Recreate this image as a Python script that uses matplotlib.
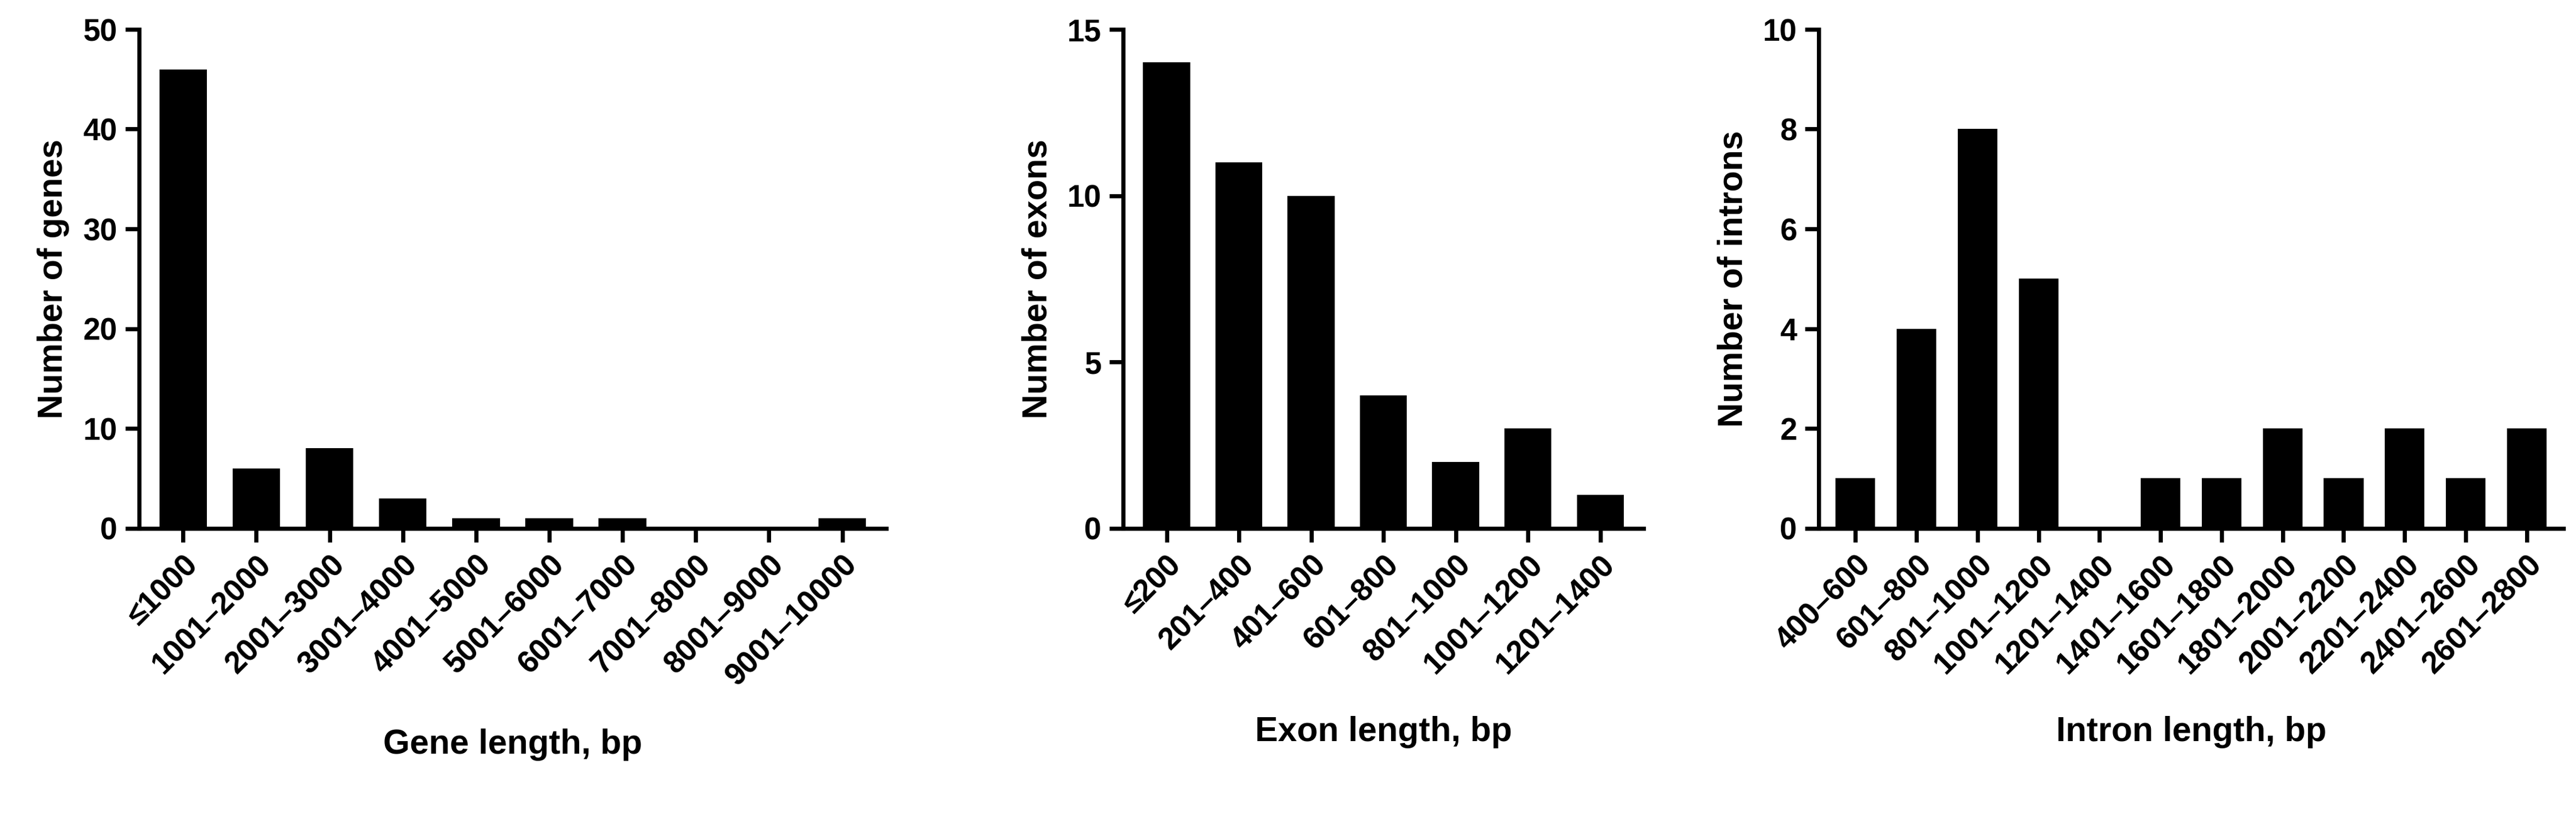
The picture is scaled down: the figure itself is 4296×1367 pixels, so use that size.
import matplotlib
matplotlib.use('Agg')
import matplotlib.pyplot as plt

plt.rcParams['font.family'] = ['Liberation Sans', 'DejaVu Sans']
plt.rcParams['font.weight'] = 'bold'

gene_cats = ['≤1000', '1001–2000', '2001–3000', '3001–4000', '4001–5000',
             '5001–6000', '6001–7000', '7001–8000', '8001–9000', '9001–10000']
gene_vals = [46, 6, 8, 3, 1, 1, 1, 0, 0, 1]

exon_cats = ['≤200', '201–400', '401–600', '601–800', '801–1000', '1001–1200', '1201–1400']
exon_vals = [14, 11, 10, 4, 2, 3, 1]

intron_cats = ['400–600', '601–800', '801–1000', '1001–1200', '1201–1400', '1401–1600',
               '1601–1800', '1801–2000', '2001–2200', '2201–2400', '2401–2600', '2601–2800']
intron_vals = [1, 4, 8, 5, 0, 1, 1, 2, 1, 2, 1, 2]

panels = [
    (gene_cats, gene_vals, 'Gene length, bp', 'Number of genes', 50, 10, [0.054, 0.355, 0.29, 0.609]),
    (exon_cats, exon_vals, 'Exon length, bp', 'Number of exons', 15, 5, [0.436, 0.355, 0.202, 0.609]),
    (intron_cats, intron_vals, 'Intron length, bp', 'Number of introns', 10, 2, [0.706, 0.355, 0.289, 0.609]),
]

fig = plt.figure(figsize=(15.68, 4.99), dpi=274)
for cats, vals, xl, yl, ymax, ystep, pos in panels:
    ax = fig.add_axes(pos)
    x = range(len(cats))
    ax.bar(x, vals, width=0.65, color='black')
    ax.set_xlim(-0.6, len(cats) - 0.4)
    ax.set_ylim(0, ymax)
    ax.set_yticks(range(0, ymax + 1, ystep))
    ax.set_xticks(list(x))
    ax.set_xticklabels(cats, rotation=45, ha='right', rotation_mode='anchor')
    for s in ['top', 'right']:
        ax.spines[s].set_visible(False)
    for s in ['left', 'bottom']:
        ax.spines[s].set_linewidth(1.8)
    ax.tick_params(width=1.8, length=6, labelsize=13.5)
    ax.set_xlabel(xl, fontsize=15, fontweight='bold', labelpad=16)
    ax.set_ylabel(yl, fontsize=15, fontweight='bold', labelpad=6)

fig.savefig('out.png', dpi=274)
